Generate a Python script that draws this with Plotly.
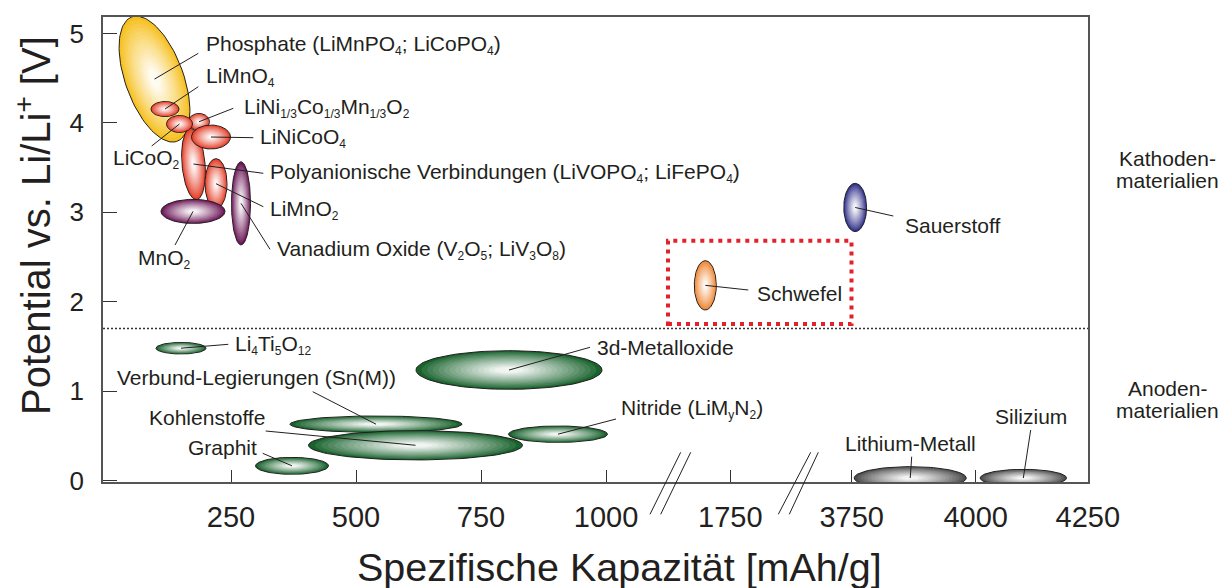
import numpy as np
import plotly.graph_objects as go

# ---------------- data ----------------
# x tick labels (capacity, mAh/g) and y tick values (V)
TICK_CAPS = [250, 500, 750, 1000, 1750, 3750, 4000, 4250]
Y_TICKS = [0, 1, 2, 3, 4, 5]
SEPARATOR_V = 1.70  # cathode / anode separation

# materials (draw order): centre capacity [mAh/g], centre potential [V],
# half capacity span [mAh/g], half potential span [V], tilt [deg], family
MAT_NAMES = ["Phosphate", "Polyanion", "LiMnO2", "MnO2", "Vanadium", "LiMnO4",
             "LiNi1/3", "LiCoO2", "LiNiCoO4", "Sauerstoff", "Schwefel",
             "Li4Ti5O12", "3d-Metalloxide", "Verbund", "Kohlenstoffe", "Nitride",
             "Graphit", "Lithium", "Silizium"]
MAT_CAP = [97, 175, 220, 174, 270, 118, 186, 147, 210, 3757, 1700,
           150, 806, 540, 619, 904, 372, 3868, 4096]
MAT_VOLT = [4.49, 3.54, 3.32, 3.01, 3.10, 4.155, 4.013, 3.988, 3.842, 3.054, 2.183,
            1.48, 1.236, 0.63, 0.394, 0.518, 0.164, 0.028, 0.028]
MAT_CAP_HALF = [58, 23, 22, 64, 19, 28, 21, 26, 39, 23, 22,
                50, 186, 172, 214, 99, 73, 113, 87]
MAT_VOLT_HALF = [0.74, 0.40, 0.28, 0.135, 0.465, 0.084, 0.093, 0.095, 0.134, 0.27, 0.276,
                 0.065, 0.216, 0.092, 0.164, 0.092, 0.095, 0.127, 0.097]
MAT_TILT = [20, 5, 0, 0, 0, 0, 0, 0, 0, 0, 0,
            0, 0, 0, 0, 0, 0, 0, 0]
MAT_FAMILY = ["yellow", "red", "red", "purple", "purple", "red", "red", "red", "red",
              "blue", "orange", "green", "green", "green", "green", "green", "green",
              "gray", "gray"]


def sub(t):
    return '<sub><span style="font-size:12px">%s</span></sub>' % t


# labels, one per material
LABEL_TEXT = [
    "Phosphate (LiMnPO%s; LiCoPO%s)" % (sub("4"), sub("4")),
    "Polyanionische Verbindungen (LiVOPO%s; LiFePO%s)" % (sub("4"), sub("4")),
    "LiMnO%s" % sub("2"),
    "MnO%s" % sub("2"),
    "Vanadium Oxide (V%sO%s; LiV%sO%s)" % (sub("2"), sub("5"), sub("3"), sub("8")),
    "LiMnO%s" % sub("4"),
    "LiNi%sCo%sMn%sO%s" % (sub("1/3"), sub("1/3"), sub("1/3"), sub("2")),
    "LiCoO%s" % sub("2"),
    "LiNiCoO%s" % sub("4"),
    "Sauerstoff",
    "Schwefel",
    "Li%sTi%sO%s" % (sub("4"), sub("5"), sub("12")),
    "3d-Metalloxide",
    "Verbund-Legierungen (Sn(M))",
    "Kohlenstoffe",
    "Nitride (LiM%sN%s)" % (sub("y"), sub("2")),
    "Graphit",
    "Lithium-Metall",
    "Silizium",
]

# ---------------- layout / styles ----------------
W, H = 1221, 588
ML, MR, MT, MB = 103, 133, 17, 106
PX_PER_V = 89.4
V0_PX = 480.5                       # pixel row of 0 V
X_RANGE = [ML, W - MR]               # display units == pixels
Y_RANGE = [(V0_PX - (H - MB)) / PX_PER_V, (V0_PX - MT) / PX_PER_V]

# broken capacity axis: three linear segments
SEG_CAP0 = [0, 1750, 3750]
SEG_POS0 = [106.0, 730.3, 851.7]
SEG_SCALE = [0.5, 0.5, 0.496]
SEG_UPPER = [1300, 3000, 1e9]


def seg_of(cap):
    for i, up in enumerate(SEG_UPPER):
        if cap <= up:
            return i
    return len(SEG_UPPER) - 1


def cap_to_x(cap):
    i = seg_of(cap)
    return SEG_POS0[i] + SEG_SCALE[i] * (cap - SEG_CAP0[i])


def py_to_v(py):
    return (V0_PX - py) / PX_PER_V


def px_to_paper(px, py):
    return (px - ML) / (W - ML - MR), ((H - MB) - py) / (H - MT - MB)


FAMILY_COLOR = {
    "yellow": (246, 192, 30),
    "red": (229, 62, 40),
    "purple": (108, 24, 88),
    "blue": (48, 48, 138),
    "orange": (238, 134, 52),
    "green": (24, 98, 44),
    "gray": (78, 78, 80),
}
TEXT_COLOR = "#231F20"
FONT = "Liberation Sans, Arial, sans-serif"

# label placement (pixels): left/centre x, centre y, anchor, leader start
LABEL_POS = [
    (204, 45, "left", 198.3, 53.3),
    (268, 173, "left", 263.3, 173.3),
    (268, 210, "left", 263.3, 206.7),
    (164, 259, "center", 175, 245),
    (275, 250, "left", 270, 249.3),
    (204, 77, "left", 198.3, 86.7),
    (242, 108, "left", 233.3, 108.3),
    (111, 159, "left", 151.7, 146),
    (258, 138, "left", 253.3, 137.7),
    (903, 225, "left", 893.3, 216),
    (755, 293, "left", 748.3, 290),
    (233, 345, "left", 228.3, 344.3),
    (595, 347, "left", 590, 347.3),
    (115, 377, "left", 312.7, 391.7),
    (147, 417, "left", 265.7, 431),
    (619, 409, "left", 616, 419),
    (186, 447, "left", 262.7, 453.3),
    (843, 443, "left", 911.7, 456.7),
    (993, 416, "left", 1030.7, 430),
]


def ellipse_pts(cx, cv, rx, ry, tilt, s, n=100):
    t = np.linspace(0, 2 * np.pi, n)
    ex, ey = rx * s * np.cos(t), ry * s * np.sin(t)
    th = np.deg2rad(tilt)
    xr = ex * np.cos(th) - ey * np.sin(th)
    yr = ex * np.sin(th) + ey * np.cos(th)
    return cx + xr, cv + yr / PX_PER_V


fig = go.Figure()
N_LEVELS = 16
for k in range(len(MAT_NAMES)):
    cap = MAT_CAP[k]
    cx = cap_to_x(cap)
    sc = SEG_SCALE[seg_of(cap)]
    rx = MAT_CAP_HALF[k] * sc
    ry = MAT_VOLT_HALF[k] * PX_PER_V
    base = np.array(FAMILY_COLOR[MAT_FAMILY[k]], dtype=float)
    for i in range(N_LEVELS):
        s = 1.0 - 0.96 * i / N_LEVELS
        f = min(1.0, (1 - s) / 0.85) ** 0.85 * 0.94
        c = base + (255 - base) * f
        col = "rgb(%d,%d,%d)" % tuple(np.round(c).astype(int))
        xs, ys = ellipse_pts(cx, MAT_VOLT[k], rx, ry, MAT_TILT[k], s)
        fig.add_trace(go.Scatter(
            x=xs, y=ys, mode="lines", fill="toself", fillcolor=col,
            line=dict(color=TEXT_COLOR if i == 0 else col, width=1 if i == 0 else 0),
            hoverinfo="skip", showlegend=False))

# leader lines (label -> ellipse centre)
lx, ly = [], []
for k, (tx, ty, anc, sx, sy) in enumerate(LABEL_POS):
    lx += [sx, cap_to_x(MAT_CAP[k]), None]
    ly += [py_to_v(sy), MAT_VOLT[k], None]
fig.add_trace(go.Scatter(x=lx, y=ly, mode="lines", line=dict(color=TEXT_COLOR, width=1),
                         hoverinfo="skip", showlegend=False))

annotations = []
for k, (tx, ty, anc, sx, sy) in enumerate(LABEL_POS):
    annotations.append(dict(x=tx, y=py_to_v(ty), xref="x", yref="y", text=LABEL_TEXT[k],
                            showarrow=False, xanchor=anc, yanchor="middle",
                            font=dict(size=21, color=TEXT_COLOR, family=FONT)))

# side labels
for txt, py in [("Kathoden-", 158), ("materialien", 180), ("Anoden-", 388), ("materialien", 410)]:
    xp, yp = px_to_paper(1167, py)
    annotations.append(dict(x=xp, y=yp, xref="paper", yref="paper", text=txt, showarrow=False,
                            xanchor="center", yanchor="middle",
                            font=dict(size=21, color=TEXT_COLOR, family=FONT)))

# axis titles
xp, yp = px_to_paper(619, 567)
annotations.append(dict(x=xp, y=yp, xref="paper", yref="paper",
                        text="Spezifische Kapazität [mAh/g]", showarrow=False,
                        xanchor="center", yanchor="middle",
                        font=dict(size=39.5, color=TEXT_COLOR, family=FONT)))
xp, yp = px_to_paper(33, 226)
annotations.append(dict(x=xp, y=yp, xref="paper", yref="paper",
                        text="Potential vs. Li/Li<sup>+</sup> [V]", showarrow=False, textangle=-90,
                        xanchor="center", yanchor="middle",
                        font=dict(size=40, color=TEXT_COLOR, family=FONT)))

shapes = []
# separator line
shapes.append(dict(type="line", xref="paper", yref="y", x0=0, x1=1, y0=SEPARATOR_V, y1=SEPARATOR_V,
                   line=dict(color="#333333", width=1.5, dash="2px,2px")))
# red highlight rectangle around sulfur
shapes.append(dict(type="rect", xref="x", yref="y", x0=668, x1=851.5,
                   y0=py_to_v(324), y1=py_to_v(240.7),
                   line=dict(color="#E4202A", width=4, dash="4px,5px")))
# axis break marks
for (x0, y0, x1, y1) in [(680.7, 452.3, 650, 514.3), (690.7, 452.3, 660.7, 514.3),
                         (810.7, 452.3, 778.3, 514.3), (818.3, 452.3, 789.3, 514.3)]:
    a0, b0 = px_to_paper(x0, y0)
    a1, b1 = px_to_paper(x1, y1)
    shapes.append(dict(type="line", xref="paper", yref="paper", x0=a0, y0=b0, x1=a1, y1=b1,
                       line=dict(color=TEXT_COLOR, width=1)))

tickvals = [min(cap_to_x(c), X_RANGE[1] - 0.2) for c in TICK_CAPS]

fig.update_layout(
    width=W, height=H, margin=dict(l=ML, r=MR, t=MT, b=MB, pad=0),
    paper_bgcolor="white", plot_bgcolor="white",
    font=dict(family=FONT, color=TEXT_COLOR),
    annotations=annotations, shapes=shapes, showlegend=False,
    xaxis=dict(range=X_RANGE, showgrid=False, zeroline=False, showline=True, mirror=True,
               linecolor="#555555", linewidth=1.5, ticks="inside", ticklen=12, tickwidth=1,
               tickcolor="#333333", tickvals=tickvals, ticktext=[str(c) for c in TICK_CAPS],
               tickfont=dict(size=29, color=TEXT_COLOR, family=FONT), ticklabelstandoff=8),
    yaxis=dict(range=Y_RANGE, showgrid=False, zeroline=False, showline=True, mirror=True,
               linecolor="#555555", linewidth=1.5, ticks="inside", ticklen=14, tickwidth=1,
               tickcolor="#333333", tickvals=Y_TICKS, ticktext=[str(v) for v in Y_TICKS],
               tickfont=dict(size=26, color=TEXT_COLOR, family=FONT), ticklabelstandoff=12),
)

fig.write_html("out.html", config={"displayModeBar": False},
               post_script="document.body.style.margin='0px';document.body.style.overflow='hidden';")
